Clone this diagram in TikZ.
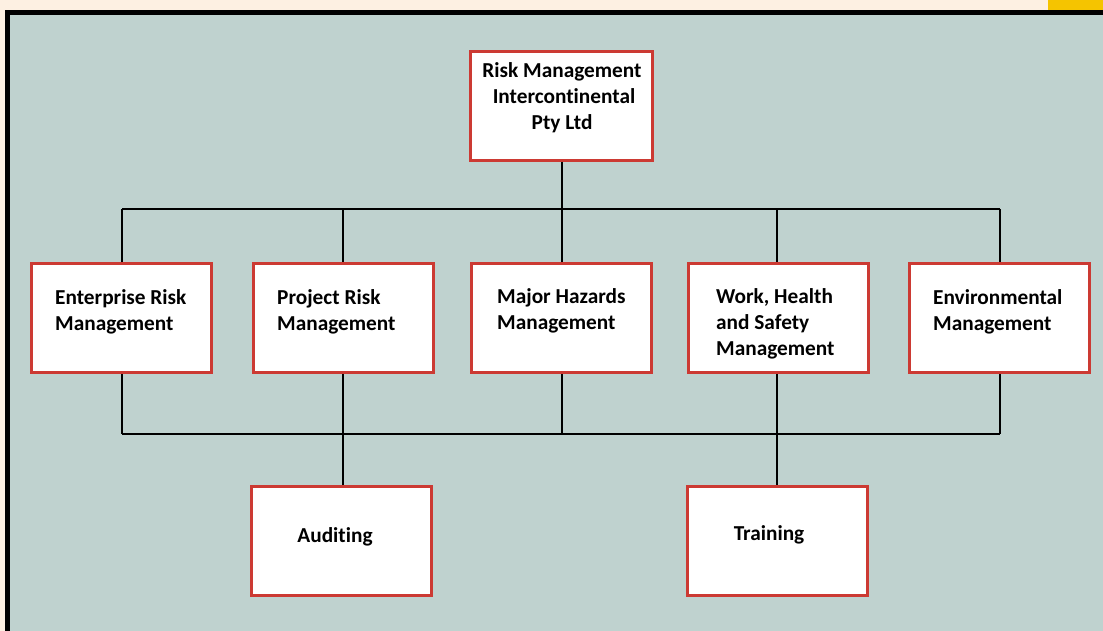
\documentclass[tikz,border=0pt]{standalone}
\usepackage{fontspec}
\setmainfont{Carlito}[Ligatures=NoCommon]
\definecolor{creamc}{HTML}{FDF0E2}
\definecolor{yellowc}{HTML}{F5C400}
\definecolor{bgc}{HTML}{BFD2CF}
\definecolor{redc}{HTML}{CC3A33}
\begin{document}
\begin{tikzpicture}[x=1pt,y=-1pt,
  boxst/.style={draw=redc, line width=3pt, fill=white, minimum width=180pt, minimum height=109pt, inner sep=0pt},
  txt/.style={font=\fontsize{21.3}{26}\selectfont\bfseries, align=left, anchor=west, inner sep=0pt},
  ctxt/.style={font=\fontsize{21.3}{26}\selectfont\bfseries, align=center, anchor=center, inner sep=0pt},
  conn/.style={draw=black, line width=2pt}]
\useasboundingbox (0,0) rectangle (1103,631);
\fill[creamc] (0,0) rectangle (1103,631);
\fill[yellowc] (1048,0) rectangle (1103,10.5);
\fill[black] (5,10.5) rectangle (1103,631);
\fill[bgc] (10,15.5) rectangle (1103,631);
% boxes
\node[boxst, minimum width=182pt, minimum height=109pt] (top) at (561.5,106) {};
\node[boxst] (erm) at (121.5,318) {};
\node[boxst] (prm) at (343,318) {};
\node[boxst] (mhm) at (561.5,318) {};
\node[boxst] (whs) at (778.5,318) {};
\node[boxst] (env) at (999,318) {};
\node[boxst] (aud) at (341,541) {};
\node[boxst] (trn) at (777.5,541) {};
% bus coordinates
\coordinate (t0) at (562,209);
\coordinate (t1) at (122,209);
\coordinate (t2) at (343,209);
\coordinate (t4) at (777,209);
\coordinate (t5) at (1000,209);
\coordinate (b0) at (562,434);
\coordinate (b1) at (122,434);
\coordinate (b2) at (343,434);
\coordinate (b4) at (777,434);
\coordinate (b5) at (1000,434);
% connectors
\draw[conn] (top.south -| t0) -- (t0);
\draw[conn] (t1) -- (t5);
\draw[conn] (b1) -- (b5);
\draw[conn] (t1) -- (t1 |- erm.north);
\draw[conn] (t2) -- (t2 |- prm.north);
\draw[conn] (t0) -- (t0 |- mhm.north);
\draw[conn] (t4) -- (t4 |- whs.north);
\draw[conn] (t5) -- (t5 |- env.north);
\draw[conn] (b1 |- erm.south) -- (b1);
\draw[conn] (b2 |- prm.south) -- (b2);
\draw[conn] (b0 |- mhm.south) -- (b0);
\draw[conn] (b4 |- whs.south) -- (b4);
\draw[conn] (b5 |- env.south) -- (b5);
\draw[conn] (b2) -- (b2 |- aud.north);
\draw[conn] (b4) -- (b4 |- trn.north);
% texts
\node[ctxt] (toptxt) at (562,98) {Risk Management\\\hspace{4pt}Intercontinental\\Pty Ltd\hspace{16pt}};
\node[txt] (ermtxt) at (55,312) {Enterprise Risk\\Management};
\node[txt] (prmtxt) at (277,312) {Project Risk\\Management};
\node[txt] (mhmtxt) at (497,311) {Major Hazards\\Management};
\node[txt] (whstxt) at (716,324) {Work, Health\\and Safety\\Management};
\node[txt] (envtxt) at (933,312) {Environmental\\Management};
\node[ctxt] (audtxt) at (335,537) {Auditing};
\node[ctxt] (trntxt) at (769,535) {Training};
\end{tikzpicture}
\end{document}
